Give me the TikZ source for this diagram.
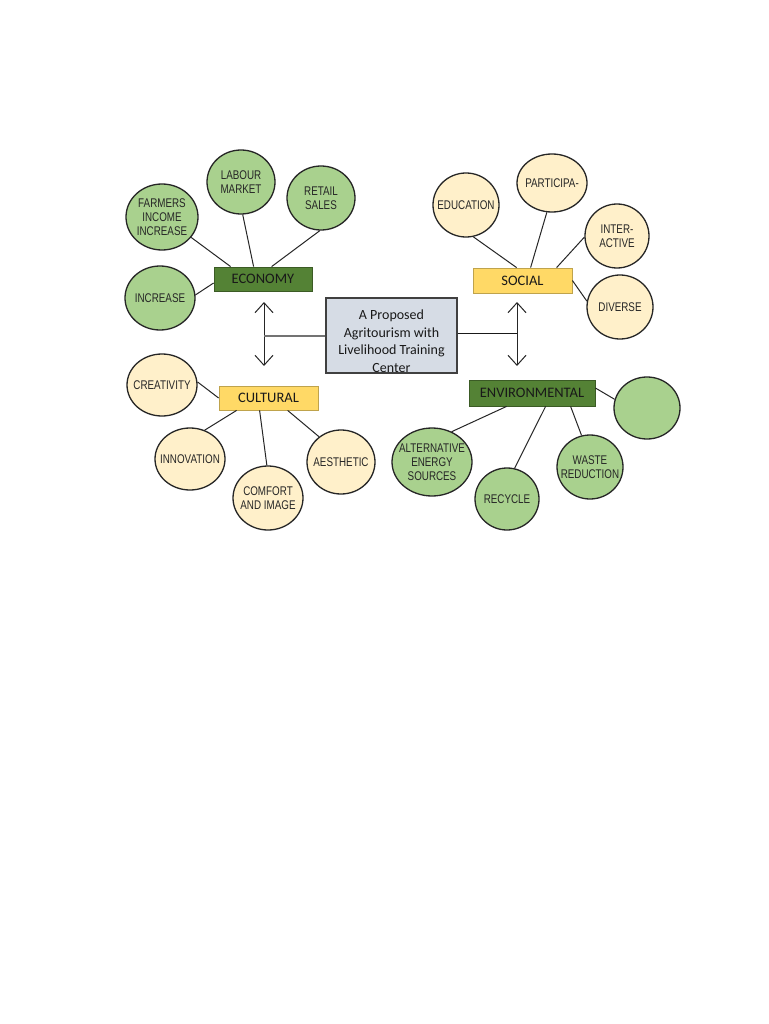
\documentclass[tikz,border=0pt]{standalone}
\usepackage{fontspec}
\setmainfont{Liberation Sans}
\newfontfamily\narrowf[FakeStretch=0.78]{Liberation Sans}
\newfontfamily\calf{Carlito}
\usetikzlibrary{shapes.geometric,arrows.meta,calc}
\definecolor{circgreen}{HTML}{A9D18E}
\definecolor{cream}{HTML}{FFF0CA}
\definecolor{darkgreen}{HTML}{548235}
\definecolor{goldbox}{HTML}{FFD966}
\definecolor{bluegray}{HTML}{D6DCE5}
\newcommand\mybubble[6]{%
  \node[#1,minimum width=#4,minimum height=#5] (#2) at (#3) {};
  \node[ctext] (#2t) at (#2) {#6};}
\begin{document}
\begin{tikzpicture}[x=1pt,y=-1pt,
  circ/.style={ellipse, draw=black!85, line width=1.3pt, inner sep=0pt},
  gc/.style={circ, fill=circgreen},
  yc/.style={circ, fill=cream},
  ctext/.style={align=center, inner sep=0pt, text=black!85, font={\narrowf\fontsize{12.6}{14}\selectfont}},
  tbox/.style={rectangle, inner sep=0pt, font={\calf\fontsize{14.5}{16}\selectfont}, line width=0.8pt, text=black!90},
  ecobox/.style={tbox, fill=darkgreen, draw=darkgreen!70!black},
  yelbox/.style={tbox, fill=goldbox, draw=goldbox!75!black},
  conn/.style={draw=black!85, line width=1pt},
  arr/.style={draw=black!85, line width=1pt, arrows={Straight Barb[length=10pt,width=18pt]-Straight Barb[length=10pt,width=18pt]}}
]
\useasboundingbox[fill=white] (0,0) rectangle (768,1024);

% central box
\node[tbox, fill=bluegray, draw=black!75, line width=1.2pt, minimum width=131, minimum height=75] (main) at (391.5,335.5) {};
\node[align=center, inner sep=0pt, font={\calf\fontsize{14}{17.5}\selectfont}, text=black!90] (maintxt) at (391.5,341) {A Proposed\\Agritourism with\\Livelihood Training\\Center};

% category boxes
\node[ecobox, minimum width=98, minimum height=24] (eco) at (263,279) {ECONOMY};
\node[yelbox, minimum width=99, minimum height=25] (soc) at (522.5,280.5) {SOCIAL};
\node[yelbox, minimum width=99, minimum height=24] (cul) at (268.5,398) {CULTURAL};
\node[ecobox, minimum width=126, minimum height=26] (env) at (532,393) {ENVIRONMENTAL};

% economy bubbles
\mybubble{gc}{lab}{241,182}{68}{64}{LABOUR\\MARKET}
\mybubble{gc}{ret}{321,198}{68}{64}{RETAIL\\SALES}
\mybubble{gc}{farm}{162,217}{72}{66}{FARMERS\\INCOME\\INCREASE}
\mybubble{gc}{inc}{160,298}{70}{64}{INCREASE}

% social bubbles
\mybubble{yc}{edu}{466,205}{66}{64}{EDUCATION}
\mybubble{yc}{par}{552,183}{70}{58}{PARTICIPA-}
\mybubble{yc}{int}{617,236}{64}{64}{INTER-\\ACTIVE}
\mybubble{yc}{div}{620,307}{66}{64}{DIVERSE}

% cultural bubbles
\mybubble{yc}{cre}{162,385}{70}{62}{CREATIVITY}
\mybubble{yc}{inn}{190,459}{70}{62}{INNOVATION}
\mybubble{yc}{com}{268,498}{70}{64}{COMFORT\\AND IMAGE}
\mybubble{yc}{aes}{341,462}{68}{64}{AESTHETIC}

% environmental bubbles
\mybubble{gc}{alt}{432,462}{80}{68}{ALTERNATIVE\\ENERGY\\SOURCES}
\mybubble{gc}{rec}{507,499}{64}{62}{RECYCLE}
\mybubble{gc}{was}{590,467}{66}{64}{WASTE\\REDUCTION}
\mybubble{gc}{blank}{647,408}{66}{62}{}

% economy connectors
\draw[conn] (farm.-35) -- ($(eco.north west)+(17,0)$);
\draw[conn] (lab.-87) -- ($(eco.north west)+(40,0)$);
\draw[conn] (ret.-92) -- ($(eco.north west)+(58,0)$);
\draw[conn] (inc.5) -- ($(eco.west)+(0,4)$);

% social connectors
\draw[conn] (edu.-77) -- ($(soc.north west)+(44,0)$);
\draw[conn] (par.-100) -- ($(soc.north west)+(58,0)$);
\draw[conn] (int.182) -- ($(soc.north west)+(84,0)$);
\draw[conn] (div.170) -- (soc.east);

% cultural connectors
\draw[conn] (cre.5) -- (cul.west);
\draw[conn] (inn.63) -- ($(cul.south west)+(18,0)$);
\draw[conn] (com.92) -- ($(cul.south west)+(41,0)$);
\draw[conn] (aes.131) -- ($(cul.south west)+(69,0)$);

% environmental connectors
\draw[conn] (alt.57) -- ($(env.south west)+(38,0)$);
\draw[conn] (rec.76) -- ($(env.south west)+(77,0)$);
\draw[conn] (was.105) -- ($(env.south west)+(102,0)$);
\draw[conn] (blank.165) -- ($(env.east)+(0,-5)$);

% arrows from the central box
\coordinate (lt) at (264,302);
\coordinate (lb) at (264,366);
\coordinate (lj) at (264,336);
\coordinate (rt) at (517,302);
\coordinate (rb) at (517,366);
\coordinate (rj) at (517,333);
\draw[arr] (lt) -- (lb);
\draw[draw=black!55, line width=1.2pt] (main.west |- lj) -- (lj);
\draw[arr] (rt) -- (rb);
\draw[draw=black!90, line width=1pt] (main.east |- rj) -- (rj);
\end{tikzpicture}
\end{document}
